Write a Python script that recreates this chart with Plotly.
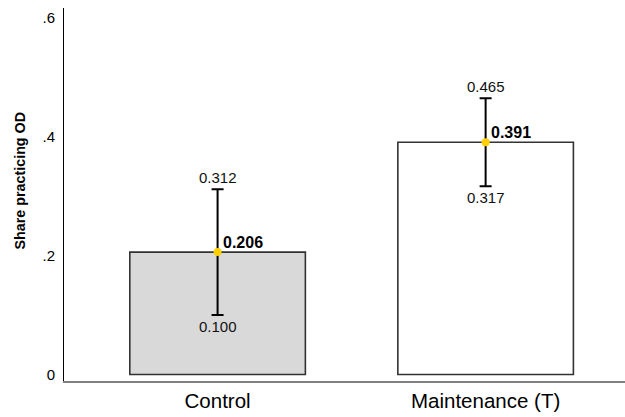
import plotly.graph_objects as go

categories = ["Control", "Maintenance (T)"]
means = [0.206, 0.391]
lower = [0.100, 0.317]
upper = [0.312, 0.465]
fills = ["#d9d9d9", "#ffffff"]
y_ticks = [0, 0.2, 0.4, 0.6]
y_tick_labels = ["0", ".2", ".4", ".6"]

xpos = list(range(len(categories)))
FONT = "Liberation Sans, Arial, Helvetica, sans-serif"

fig = go.Figure()
fig.add_trace(go.Bar(
    x=xpos, y=means, width=0.655,
    marker=dict(color=fills, line=dict(color="#333333", width=1.6)),
    hoverinfo="skip", showlegend=False,
))
fig.add_trace(go.Scatter(
    x=xpos, y=means, mode="markers",
    marker=dict(color="#FFD000", size=8),
    error_y=dict(type="data", symmetric=False,
                 array=[u - m for u, m in zip(upper, means)],
                 arrayminus=[m - l for m, l in zip(means, lower)],
                 color="black", thickness=2, width=6),
    showlegend=False,
))

ann = []
for i in xpos:
    ann.append(dict(x=i, y=upper[i], text=f"{upper[i]:.3f}", showarrow=False,
                    yanchor="bottom", yshift=1, font=dict(size=15, color="#111")))
    ann.append(dict(x=i, y=lower[i], text=f"{lower[i]:.3f}", showarrow=False,
                    yanchor="top", yshift=-1, font=dict(size=15, color="#111")))
    ann.append(dict(x=i, y=means[i], text=f"<b>{means[i]:.3f}</b>", showarrow=False,
                    xanchor="left", yanchor="middle", xshift=3, yshift=10,
                    font=dict(size=16, color="black")))

ann.append(dict(xref="paper", yref="y", x=0, xshift=-54, y=0.325, showarrow=False,
                text="<b>Share practicing OD</b>", textangle=-90,
                font=dict(size=14.3, color="black")))

fig.update_layout(
    width=625, height=417,
    margin=dict(l=64, r=0, t=8, b=36),
    plot_bgcolor="white", paper_bgcolor="white",
    font=dict(family=FONT, color="black"),
    annotations=ann,
    xaxis=dict(range=[-0.573, 1.52], tickvals=xpos, ticktext=categories,
               showgrid=False, zeroline=False, showline=True, automargin=False,
               linecolor="#808080", linewidth=2, ticks="",
               tickfont=dict(size=20.5)),
    yaxis=dict(range=[-0.011, 0.617], tickvals=y_ticks, ticktext=y_tick_labels,
               showgrid=False, zeroline=False, showline=True, automargin=False,
               linecolor="black", linewidth=1, ticks="", ticklen=0,
               ticklabelstandoff=5, tickfont=dict(size=15)),
)

fig.write_html("out.html", config={"displayModeBar": False},
               post_script="document.body.style.margin='0';document.body.style.padding='0';")
